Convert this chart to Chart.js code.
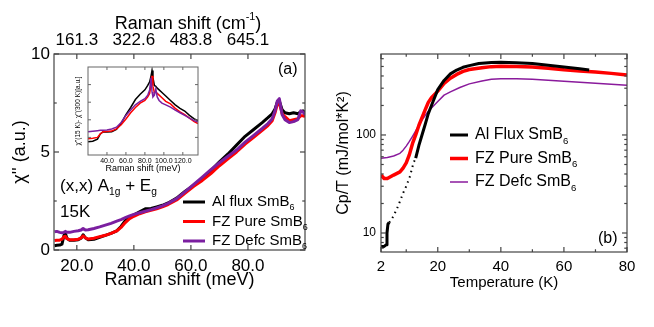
<!DOCTYPE html>
<html>
<head>
<meta charset="utf-8">
<script src="https://cdn.jsdelivr.net/npm/chart.js@4.4.1/dist/chart.umd.min.js"></script>
<style>
  body { margin: 0; background: #fff; width: 654px; height: 327px; position: relative; overflow: hidden; }
  canvas { position: absolute; }
  #panelA { left: 0; top: 0; }
  #inset { left: 66px; top: 62px; }
  #panelB { left: 330px; top: 0; }
</style>
</head>
<body>
<canvas id="panelA" width="330" height="327"></canvas>
<canvas id="inset" width="136" height="114"></canvas>
<canvas id="panelB" width="324" height="327"></canvas>
<script>
// ---- (a) Raman susceptibility at 15 K ----
const ramanE = [12.2, 13, 14, 14.8, 15.5, 16, 16.5, 17.5, 19, 20.5, 21.5, 22.2, 23, 24, 26, 28, 30, 32, 34, 35.5,
  37, 38.5, 40, 42, 44, 46, 48, 50, 52, 55, 58, 61, 64, 67, 70, 73, 76, 79, 82, 85,
  87, 88.5, 89.5, 90.3, 91, 92, 93, 94.5, 96, 97.5, 98.5, 99.3, 100];
const ramanAlFlux = [0.22, 0.24, 0.25, 0.3, 0.75, 0.85, 0.6, 0.5, 0.5, 0.52, 0.6, 0.78, 0.62, 0.52, 0.55, 0.65, 0.75, 0.85, 0.98, 1.2,
  1.5, 1.68, 1.8, 1.95, 2.1, 2.12, 2.2, 2.28, 2.4, 2.65, 3.0, 3.3, 3.65, 4.05, 4.5, 4.9, 5.35, 5.8, 6.15, 6.5,
  6.75, 6.95, 7.2, 7.55, 7.6, 7.15, 7.0, 6.95, 7.0, 6.95, 7.05, 7.1, 7.0];
const ramanFzPure = [0.48, 0.5, 0.5, 0.55, 0.68, 0.7, 0.58, 0.52, 0.52, 0.55, 0.62, 0.72, 0.62, 0.56, 0.6, 0.68, 0.75, 0.85, 0.97, 1.15,
  1.4, 1.6, 1.72, 1.85, 1.95, 2.02, 2.1, 2.2, 2.32, 2.55, 2.9, 3.25, 3.55, 3.9, 4.3, 4.65, 5.0, 5.4, 5.75, 6.1,
  6.35, 6.6, 7.0, 7.45, 7.5, 6.95, 6.8, 6.6, 6.65, 6.7, 6.85, 6.85, 6.8];
const ramanFzDefc = [0.93, 0.95, 0.9, 0.88, 0.9, 0.95, 0.9, 0.9, 0.95, 0.98, 1.02, 1.1, 1.02, 1.03, 1.1, 1.18, 1.27, 1.36, 1.47, 1.55,
  1.65, 1.74, 1.82, 1.9, 1.98, 2.06, 2.15, 2.25, 2.38, 2.62, 2.98, 3.35, 3.72, 4.1, 4.45, 4.78, 5.1, 5.5, 5.85, 6.2,
  6.45, 6.7, 7.1, 7.6, 7.72, 6.9, 6.65, 6.5, 6.55, 6.65, 7.1, 7.05, 6.9];
const labelsA = ['Al flux SmB_6', 'FZ Pure SmB_6', 'FZ Defc SmB_6'];
const ticksA_x = [20, 40, 60, 80];
const ticksA_top = ['161.3', '322.6', '483.8', '645.1'];
const ticksA_y = [0, 5, 10];
const minorA_y = [2.5, 7.5];

// inset: chi''(15 K) - chi''(300 K)
const insetE = [20, 25, 30, 33, 36, 40, 45, 50, 55, 60, 65, 70, 75, 80, 83, 85, 86.5, 87.5, 88.5, 90,
  91.5, 93, 95, 98, 102, 107, 112, 117, 122, 127, 132, 136];
const insetAlFlux = [0.75, 0.78, 0.9, 1.2, 1.32, 1.3, 1.32, 1.45, 1.8, 2.3, 2.7, 3.15, 3.45, 3.7, 3.95, 4.15, 4.5, 4.8, 4.4, 3.95,
  3.9, 3.8, 3.7, 3.55, 3.35, 3.1, 2.85, 2.65, 2.5, 2.25, 2.05, 1.95];
const insetFzPure = [0.92, 0.95, 1.0, 1.2, 1.32, 1.34, 1.36, 1.48, 1.72, 2.05, 2.4, 2.7, 2.95, 3.1, 3.3, 3.5, 4.0, 4.5, 3.9, 3.55,
  3.6, 3.5, 3.4, 3.25, 3.05, 2.9, 2.65, 2.45, 2.3, 2.1, 1.9, 1.78];
const insetFzDefc = [1.32, 1.35, 1.38, 1.4, 1.41, 1.42, 1.48, 1.58, 1.85, 2.25, 2.55, 2.85, 3.05, 3.2, 3.4, 3.7, 4.4, 3.6, 3.3, 3.4,
  3.75, 3.3, 3.1, 2.95, 2.85, 2.72, 2.55, 2.4, 2.25, 2.1, 1.95, 1.88];
const ticksIn_x = [40, 60, 80, 100, 120];
const ticksIn_y = [1, 2, 3, 4];

// ---- (b) specific heat Cp/T ----
const tAlFlux = [2, 3, 3.7, 3.9, 4.2, 4.6, 5, 6, 7, 8, 9, 10, 11.2, 12.3, 13, 14, 15, 16, 17, 18,
  20, 22, 24, 26, 28, 30, 33, 37, 40, 45, 50, 55, 60, 65, 68];
const cpAlFlux = [7.3, 7.3, 7.6, 10, 12.3, 12.8, 13.2, 15, 17.5, 21, 25.5, 30, 38, 52, 58, 78, 100, 128, 165, 200,
  290, 360, 420, 460, 490, 510, 535, 550, 553, 545, 535, 515, 495, 475, 460];
const tFzPure = [2, 3, 4, 5, 6, 8, 9, 10, 11, 12, 13, 14, 15, 16, 17, 18, 20, 22, 24, 26,
  28, 30, 34, 37, 40, 45, 50, 55, 60, 65, 70, 75, 80];
const cpFzPure = [39, 36, 36, 37.5, 39, 42, 46, 52, 63, 82, 100, 125, 150, 180, 215, 240, 280, 335, 380, 415,
  445, 465, 485, 498, 503, 500, 495, 480, 462, 450, 438, 425, 410];
const tFzDefc = [2, 4, 6, 8, 9, 10, 11, 12, 13, 14, 15, 17, 20, 22, 24, 27, 30, 34, 37, 40,
  45, 50, 55, 60, 65, 70, 75, 80];
const cpFzDefc = [58, 59, 61, 65, 70, 77, 86, 97, 110, 125, 142, 175, 220, 255, 275, 305, 332, 355, 370, 375,
  374, 370, 362, 354, 346, 338, 330, 322];
const labelsB = ['Al Flux SmB_6', 'FZ Pure SmB_6', 'FZ Defc SmB_6'];
const ticksB_x = [2, 20, 40, 60, 80];
const minorB_x = [10, 30, 50, 70];
const ticksB_y = [10, 100];
const minorB_y = [7, 8, 9, 20, 30, 40, 50, 60, 70, 80, 90, 200, 300, 400, 500, 600];
const dottedFrom = 4.6, dottedTo = 13;   // sparse points in the Al flux curve

const FONT = "'Liberation Sans', Arial, sans-serif";
Chart.defaults.font.family = FONT;
Chart.defaults.color = '#000';

const pts = (xs, ys) => xs.map((x, i) => ({ x: x, y: ys[i] }));
const fixTicks = vals => s => { s.ticks = vals.map(v => ({ value: v })); };

// text with _sub / ^sup pieces
function richParts(s) {
  const parts = [];
  const re = /([_^])\{([^}]*)\}|([_^])(.)/g;
  let last = 0, m;
  while ((m = re.exec(s))) {
    if (m.index > last) parts.push({ t: s.slice(last, m.index), k: 0 });
    parts.push({ t: m[2] !== undefined ? m[2] : m[4], k: (m[1] || m[3]) === '_' ? 1 : -1 });
    last = re.lastIndex;
  }
  if (last < s.length) parts.push({ t: s.slice(last), k: 0 });
  return parts;
}
function drawRich(ctx, s, x, y, size, align) {
  const parts = richParts(s);
  const fnt = p => (p.k ? size * 0.6 : size) + 'px ' + FONT;
  let w = 0;
  parts.forEach(p => { ctx.font = fnt(p); w += ctx.measureText(p.t).width; });
  let cx = align === 'center' ? x - w / 2 : x;
  ctx.textAlign = 'left';
  ctx.textBaseline = 'middle';
  parts.forEach(p => {
    ctx.font = fnt(p);
    const dy = p.k === 1 ? size * 0.38 : p.k === -1 ? -size * 0.4 : 0;
    ctx.fillText(p.t, cx, y + dy);
    cx += ctx.measureText(p.t).width;
  });
}

const framePlugin = {
  id: 'frame',
  beforeDatasetsDraw(chart, args, o) {
    if (!o.bg) return;
    const a = chart.chartArea;
    chart.ctx.save();
    chart.ctx.fillStyle = o.bg;
    chart.ctx.fillRect(a.left, a.top, a.right - a.left, a.bottom - a.top);
    chart.ctx.restore();
  },
  afterDatasetsDraw(chart, args, o) {
    const { ctx, chartArea: a, scales } = chart;
    const xs = scales.x, ys = scales.y;
    ctx.save();
    ctx.strokeStyle = o.color;
    ctx.lineWidth = o.width;
    ctx.strokeRect(a.left, a.top, a.right - a.left, a.bottom - a.top);
    const seg = (x1, y1, x2, y2) => { ctx.beginPath(); ctx.moveTo(x1, y1); ctx.lineTo(x2, y2); ctx.stroke(); };
    [[o.xMajor, o.len], [o.xMinor, o.len * 0.55]].forEach(([vals, L]) => (vals || []).forEach(v => {
      const p = xs.getPixelForValue(v);
      seg(p, a.bottom, p, a.bottom - L);
      seg(p, a.top, p, a.top + L);
    }));
    [[o.yMajor, o.len], [o.yMinor, o.len * 0.55]].forEach(([vals, L]) => (vals || []).forEach(v => {
      const p = ys.getPixelForValue(v);
      seg(a.left, p, a.left + L, p);
      seg(a.right, p, a.right - L, p);
    }));
    ctx.restore();
  }
};

const notesPlugin = {
  id: 'notes',
  afterDraw(chart, args, o) {
    const ctx = chart.ctx;
    ctx.save();
    ctx.fillStyle = '#000';
    (o.items || []).forEach(it => drawRich(ctx, it.text, it.x, it.y, it.size, it.align));
    const lg = o.legend;
    if (lg) {
      lg.rows.forEach((di, k) => {
        const ds = chart.data.datasets[di];
        const y = lg.y + k * lg.dy;
        ctx.strokeStyle = ds.borderColor;
        ctx.lineWidth = ds.borderWidth;
        ctx.beginPath();
        ctx.moveTo(lg.x, y);
        ctx.lineTo(lg.x + lg.len, y);
        ctx.stroke();
        ctx.fillStyle = '#000';
        drawRich(ctx, ds.label, lg.x + lg.len + lg.gap, y, lg.size, 'left');
      });
    }
    ctx.restore();
  }
};

const noGrid = { display: false, drawTicks: false };
const noBorder = { display: false };

// panel (a)
new Chart(document.getElementById('panelA'), {
  type: 'line',
  data: {
    datasets: [
      { label: labelsA[0], data: pts(ramanE, ramanAlFlux), borderColor: '#000000', borderWidth: 3, order: 2 },
      { label: labelsA[1], data: pts(ramanE, ramanFzPure), borderColor: '#ff0000', borderWidth: 3, order: 1 },
      { label: labelsA[2], data: pts(ramanE, ramanFzDefc), borderColor: '#7b1fa0', borderWidth: 3, order: 0 }
    ]
  },
  options: {
    responsive: false,
    animation: false,
    elements: { point: { radius: 0 }, line: { tension: 0, borderJoinStyle: 'round' } },
    layout: { padding: { left: 0, right: 25, top: 0, bottom: 0 } },
    scales: {
      x: {
        type: 'linear', position: 'bottom', min: 12, max: 100,
        afterBuildTicks: fixTicks(ticksA_x),
        afterFit: s => { s.height = 77; },
        grid: noGrid, border: noBorder,
        ticks: { font: { size: 17 }, padding: 6, maxRotation: 0, callback: v => v.toFixed(1) },
        title: { display: true, text: 'Raman shift (meV)', font: { size: 18 }, padding: { top: 0, bottom: 36 } }
      },
      x2: {
        type: 'linear', position: 'top', min: 12, max: 100,
        afterBuildTicks: fixTicks(ticksA_x),
        afterFit: s => { s.height = 54; },
        grid: noGrid, border: noBorder,
        ticks: { font: { size: 17 }, padding: 3, maxRotation: 0, callback: (v, i) => ticksA_top[i] }
      },
      y: {
        min: 0, max: 10,
        afterBuildTicks: fixTicks(ticksA_y),
        afterFit: s => { s.width = 54; },
        grid: noGrid, border: noBorder,
        ticks: { font: { size: 17 }, padding: 4 },
        title: { display: true, text: "\u03c7'' (a.u.)", font: { size: 18 }, padding: { top: 9, bottom: 0 } }
      }
    },
    plugins: {
      legend: { display: false },
      tooltip: { enabled: false },
      frame: { color: '#444', width: 1.2, len: 5, xMajor: ticksA_x, yMajor: ticksA_y, yMinor: minorA_y },
      notes: {
        items: [
          { text: 'Raman shift (cm^{-1})', x: 188, y: 24, size: 18, align: 'center' },
          { text: '(x,x) A_{1g} + E_g', x: 60, y: 186, size: 17, align: 'left' },
          { text: '15K', x: 60, y: 212, size: 17, align: 'left' },
          { text: '(a)', x: 278, y: 70, size: 16, align: 'left' }
        ],
        legend: { x: 183, y: 202, dy: 19.5, len: 22, gap: 7, size: 15, rows: [0, 1, 2] }
      }
    }
  },
  plugins: [framePlugin, notesPlugin]
});

// inset of panel (a)
new Chart(document.getElementById('inset'), {
  type: 'line',
  data: {
    datasets: [
      { label: labelsA[0], data: pts(insetE, insetAlFlux), borderColor: '#000000', borderWidth: 1.5, order: 2 },
      { label: labelsA[1], data: pts(insetE, insetFzPure), borderColor: '#ff0000', borderWidth: 1.5, order: 1 },
      { label: labelsA[2], data: pts(insetE, insetFzDefc), borderColor: '#7b1fa0', borderWidth: 1.5, order: 0 }
    ]
  },
  options: {
    responsive: false,
    animation: false,
    elements: { point: { radius: 0 }, line: { tension: 0 } },
    layout: { padding: { left: 0, right: 4, top: 5, bottom: 0 } },
    scales: {
      x: {
        type: 'linear', min: 20, max: 136,
        afterBuildTicks: fixTicks(ticksIn_x),
        afterFit: s => { s.height = 21; },
        grid: noGrid, border: noBorder,
        ticks: { font: { size: 7 }, padding: 2, maxRotation: 0, callback: v => v.toFixed(1) },
        title: { display: true, text: 'Raman shift (meV)', font: { size: 9 }, padding: { top: 0, bottom: 2 } }
      },
      y: {
        min: 0, max: 5,
        afterBuildTicks: fixTicks(ticksIn_y),
        afterFit: s => { s.width = 22; },
        grid: noGrid, border: noBorder,
        ticks: { display: false },
        title: { display: true, text: "\u03c7''(15 K)- \u03c7''(300 K)[a.u.]", font: { size: 6.5 }, padding: { top: 8, bottom: 0 } }
      }
    },
    plugins: {
      legend: { display: false },
      tooltip: { enabled: false },
      frame: { color: '#666', width: 1, len: 3, bg: '#ffffff', xMajor: ticksIn_x, yMajor: ticksIn_y }
    }
  },
  plugins: [framePlugin]
});

// panel (b)
new Chart(document.getElementById('panelB'), {
  type: 'line',
  data: {
    datasets: [
      {
        label: labelsB[0], data: pts(tAlFlux, cpAlFlux), borderColor: '#000000', borderWidth: 3, order: 0,
        segment: {
          borderDash: c => (c.p0.parsed.x >= dottedFrom && c.p1.parsed.x <= dottedTo ? [1.5, 4] : undefined),
          borderWidth: c => (c.p0.parsed.x >= dottedFrom && c.p1.parsed.x <= dottedTo ? 2 : undefined)
        }
      },
      { label: labelsB[1], data: pts(tFzPure, cpFzPure), borderColor: '#ff0000', borderWidth: 3.5, order: 1 },
      { label: labelsB[2], data: pts(tFzDefc, cpFzDefc), borderColor: '#8a1a9c', borderWidth: 1.5, order: 2 }
    ]
  },
  options: {
    responsive: false,
    animation: false,
    elements: { point: { radius: 0 }, line: { tension: 0, borderJoinStyle: 'round' } },
    layout: { padding: { left: 0, right: 27, top: 54, bottom: 0 } },
    scales: {
      x: {
        type: 'linear', min: 2, max: 80,
        afterBuildTicks: fixTicks(ticksB_x),
        afterFit: s => { s.height = 75; },
        grid: noGrid, border: noBorder,
        ticks: { font: { size: 15 }, padding: 6, maxRotation: 0 },
        title: { display: true, text: 'Temperature (K)', font: { size: 15 }, padding: { top: 0, bottom: 35 } }
      },
      y: {
        type: 'logarithmic', min: 6.4, max: 670,
        afterBuildTicks: fixTicks(ticksB_y),
        afterFit: s => { s.width = 51; },
        grid: noGrid, border: noBorder,
        ticks: { font: { size: 12 }, padding: 5, callback: v => String(v) },
        title: { display: true, text: 'Cp/T (mJ/mol*K\u00b2)', font: { size: 16 }, padding: { top: 4, bottom: 0 } }
      }
    },
    plugins: {
      legend: { display: false },
      tooltip: { enabled: false },
      frame: { color: '#444', width: 1.2, len: 5, xMajor: ticksB_x, xMinor: minorB_x, yMajor: ticksB_y, yMinor: minorB_y },
      notes: {
        items: [{ text: '(b)', x: 268, y: 239, size: 16, align: 'left' }],
        legend: { x: 120, y: 135, dy: 23.5, len: 18, gap: 7, size: 16, rows: [0, 1, 2] }
      }
    }
  },
  plugins: [framePlugin, notesPlugin]
});
</script>
</body>
</html>
